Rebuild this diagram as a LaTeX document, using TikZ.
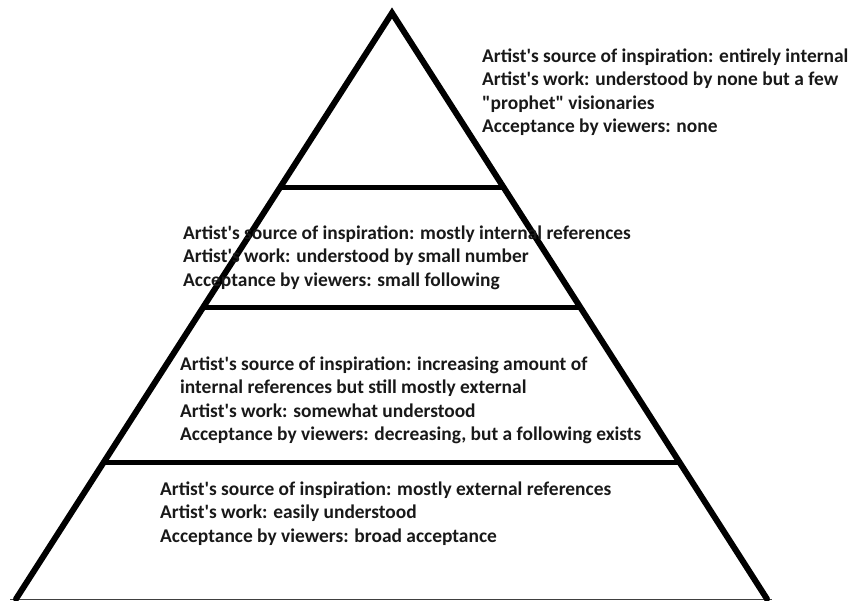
\documentclass[tikz,border=0pt]{standalone}
\usepackage{fontspec}
\setmainfont{Carlito}[Ligatures=TeXOff]
\usetikzlibrary{calc}
\begin{document}
\begin{tikzpicture}[x=1bp,y=-1bp,
  side/.style={line width=6bp,line cap=round,line join=miter},
  tier/.style={line width=5bp},
  baseln/.style={line width=1.5bp,draw=black!75},
  txt/.style={anchor=base west,inner sep=0pt,align=left,text=black!90,
    font=\fontsize{19.5}{23.5}\selectfont\bfseries}]
\useasboundingbox[fill=white] (0,0) rectangle (859,601);
\coordinate (apex) at (392,13);
\coordinate (bl) at (16,599);
\coordinate (br) at (767,599);
\draw[baseln] (10,599.5) -- (772,599.5);
\draw[side] (bl) -- (apex) -- (br);
\coordinate (l1) at ($(apex)!0.2986!(bl)$);
\coordinate (r1) at ($(apex)!0.2986!(br)$);
\coordinate (l2) at ($(apex)!0.5034!(bl)$);
\coordinate (r2) at ($(apex)!0.5034!(br)$);
\coordinate (l3) at ($(apex)!0.7679!(bl)$);
\coordinate (r3) at ($(apex)!0.7679!(br)$);
\draw[tier] (l1) -- (r1);
\draw[tier] (l2) -- (r2);
\draw[tier] (l3) -- (r3);
% anchor = baseline of the last line
\node[txt] (t1) at (482,132.5) {Artist's source of inspiration: entirely internal\\Artist's work: understood by none but a few\\"prophet" visionaries\\Acceptance by viewers: none};
\node[txt] (t2) at (183,286) {Artist's source of inspiration: mostly internal references\\Artist's work: understood by small number\\Acceptance by viewers: small following};
\node[txt] (t3) at (180,440.5) {Artist's source of inspiration: increasing amount of\\internal references but still mostly external\\Artist's work: somewhat understood\\Acceptance by viewers: decreasing, but a following exists};
\node[txt] (t4) at (160,542) {Artist's source of inspiration: mostly external references\\Artist's work: easily understood\\Acceptance by viewers: broad acceptance};
\end{tikzpicture}
\end{document}
